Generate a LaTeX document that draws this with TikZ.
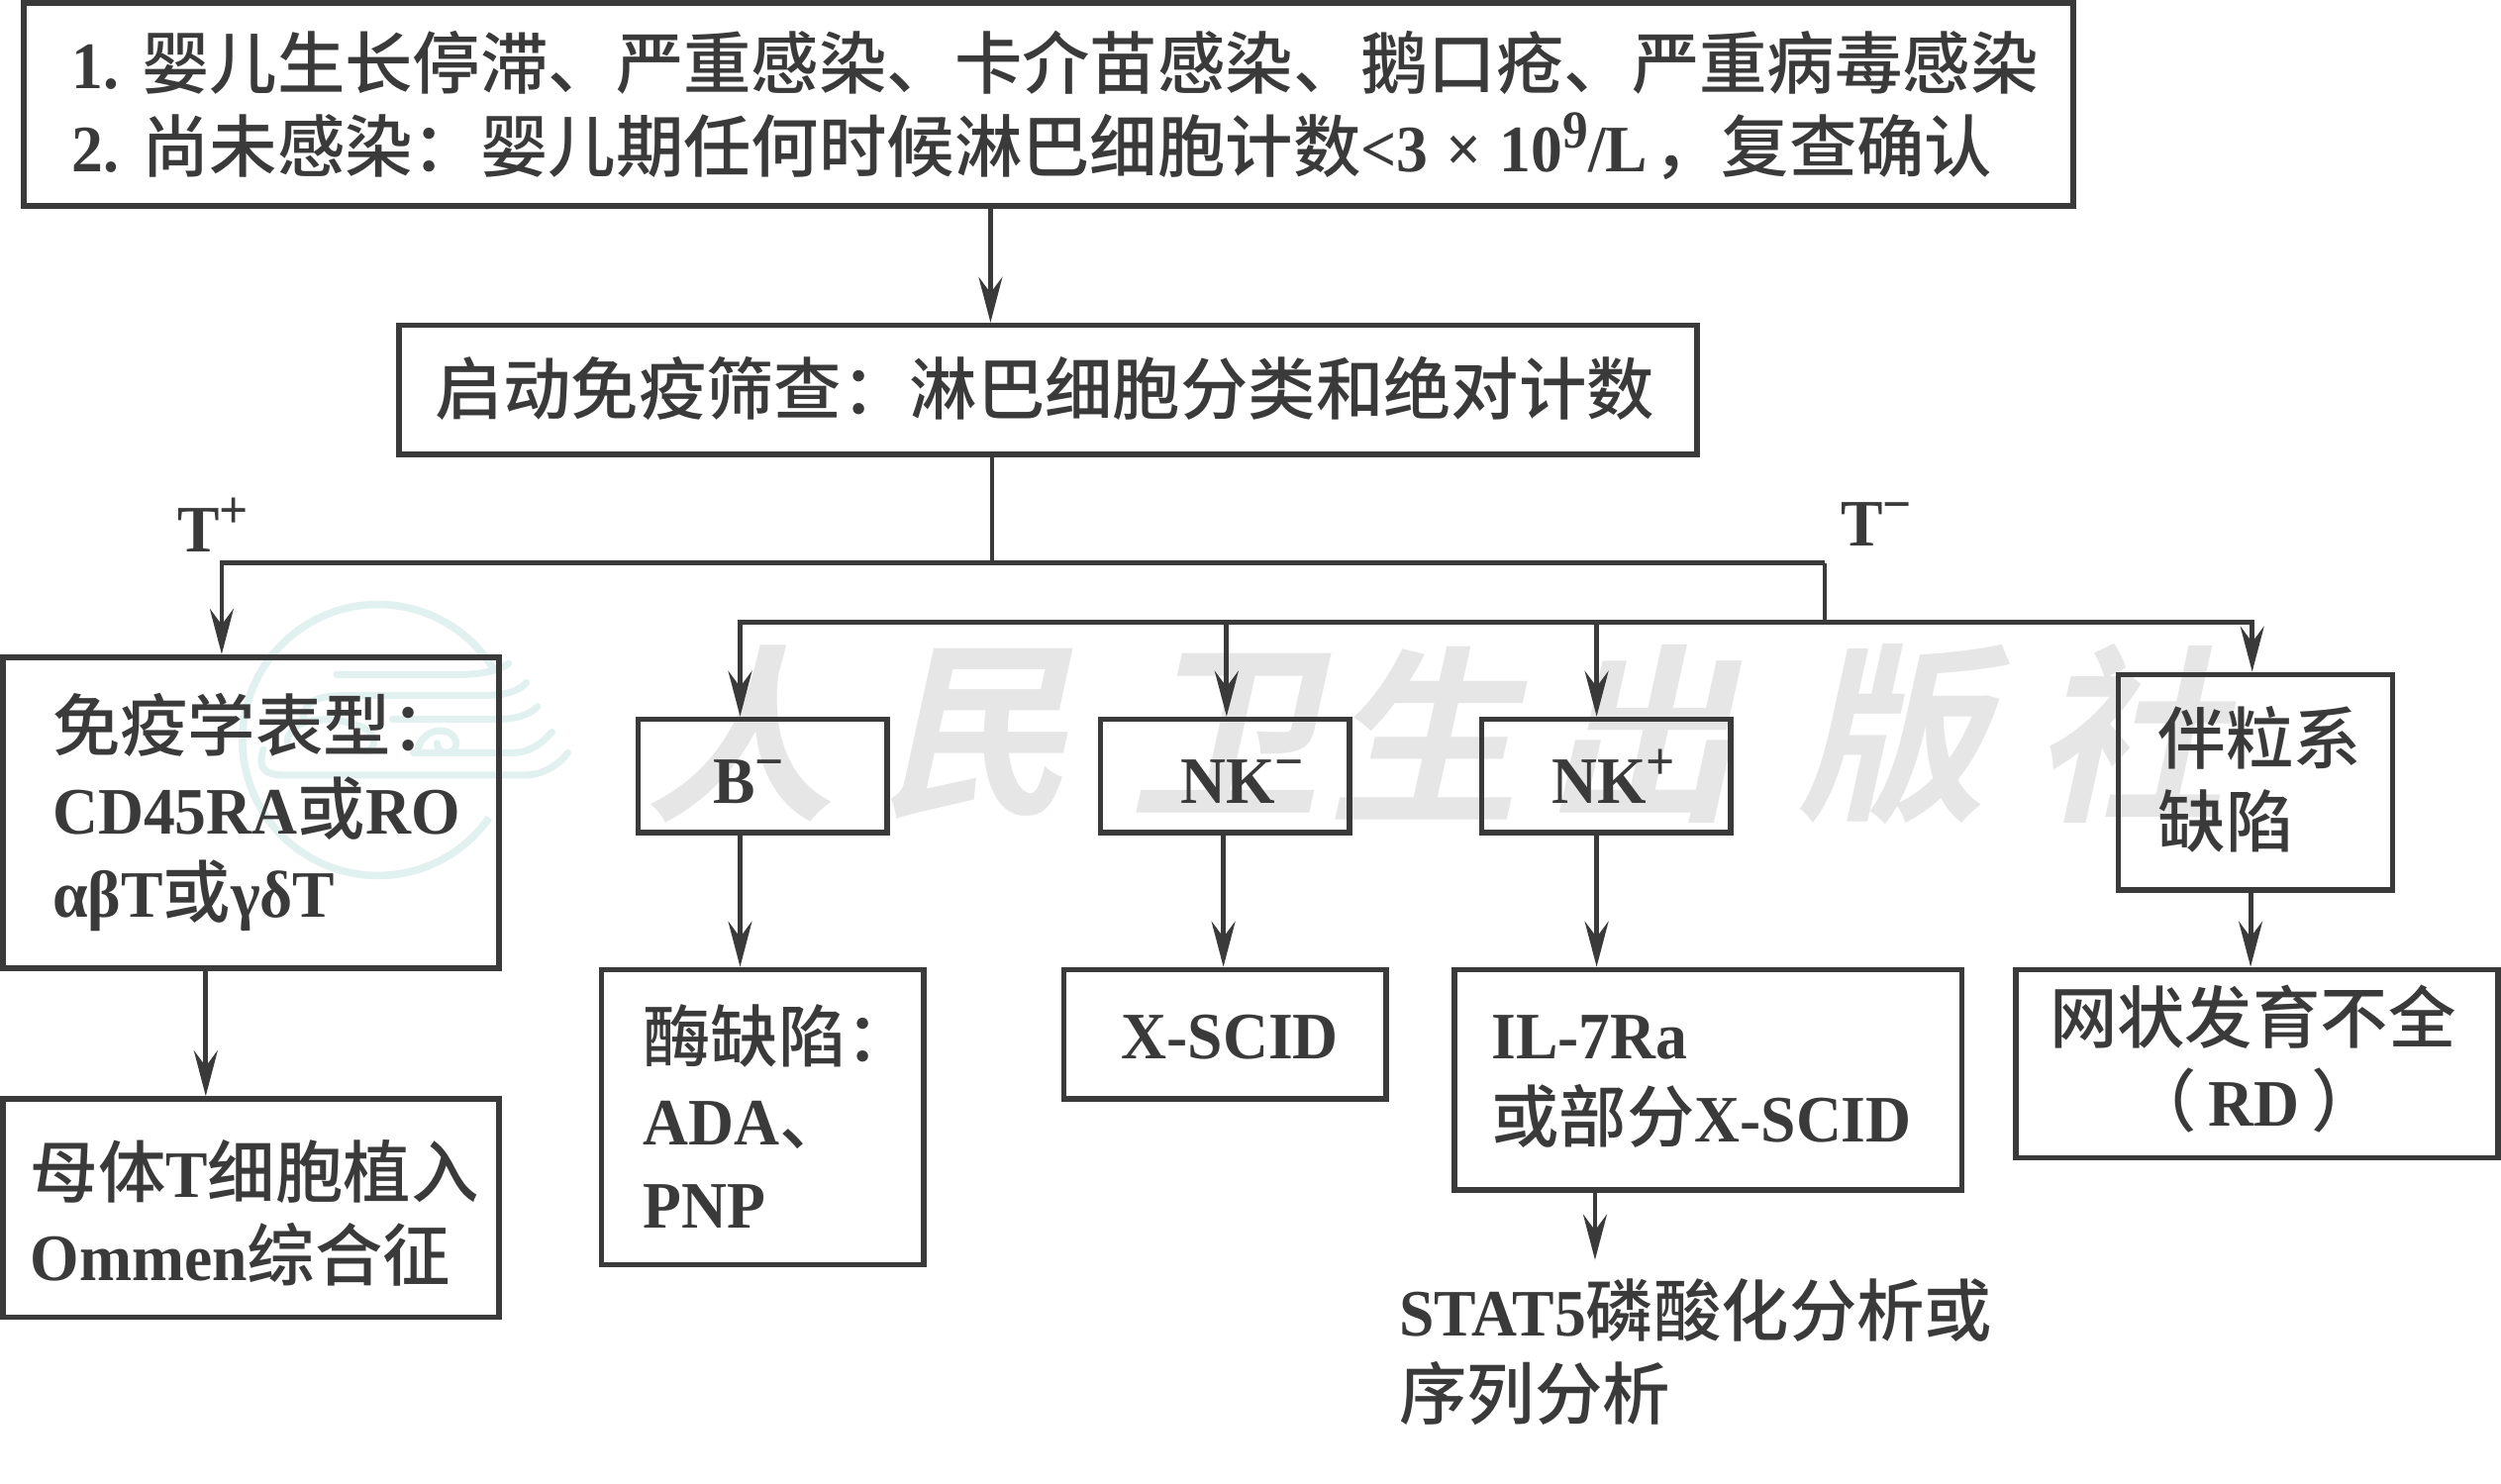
\documentclass[tikz,border=0pt]{standalone}
\usepackage{fontspec}
\setmainfont[FakeStretch=0.95]{Liberation Serif Bold}
\newfontfamily\cjk[Scale=1.021]{Noto Sans CJK SC Medium}
\newfontfamily\wmf[FakeSlant=0.22]{Noto Sans CJK SC Bold}
\usetikzlibrary{arrows.meta}
\definecolor{ink}{HTML}{3A3A3A}
\definecolor{wmark}{HTML}{E6E6E6}
\definecolor{logoc}{HTML}{E0F1EF}
\newcommand\C[1]{{\cjk #1}}
\newcommand\up[1]{\raisebox{0.36em}{\fontsize{27}{27}\selectfont #1}}
% struts that fix where the first baseline sits in a box
\newcommand\bt[1]{\rule{0pt}{\dimexpr #1pt+10pt\relax}}
\newcommand\be{\rule[-10pt]{0pt}{10pt}}
\tikzset{
  boxs/.style={draw=ink,line width=2.8pt,rectangle,inner ysep=0pt,text=ink,font=\fontsize{33.5}{41.9}\selectfont},
  conn/.style={draw=ink,line width=2.4pt},
  arr/.style={conn,-{Stealth[length=23pt,width=12pt,inset=8pt]}},
  lab/.style={text=ink,inner sep=0pt,font=\fontsize{33.5}{41.9}\selectfont},
  wm/.style={text=wmark,inner sep=0pt,font=\fontsize{96}{96}\selectfont\wmf},
  wave/.style={draw=logoc,line width=3.5pt,line cap=round}
}
% name, x1, y1, x2, y2, left inset, alignment, text
\newcommand\bx[8]{%
  \node[boxs,align=#7,inner xsep=#6*0.8055pt,
        text width={(#4-#2-2*#6)*0.8055pt},
        minimum width={(#4-#2)*0.8055pt},minimum height={(#5-#3)*0.8055pt}]
       (#1) at ({(#2+#4)/2},{(#3+#5)/2}) {#8};}
\begin{document}
\begin{tikzpicture}[x=0.8055pt,y=-0.8055pt]
\useasboundingbox (0,0) rectangle (1568,930.5);
% logo
\draw[draw=logoc,line width=3.8pt] (310.6,421.5) arc[start angle=-30,end angle=-325,radius=85];
\draw[wave] (165,470) .. controls (160,486) and (172,486) .. (180,486) -- (329,486) .. controls (340,486) and (350,480) .. (356,472);
\draw[wave] (259,472) -- (321,472) .. controls (332,472) and (340,466) .. (346,459);
\draw[wave] (246,451) -- (309,451) .. controls (320,451) and (330,450) .. (337,443);
\draw[wave] (190,452) .. controls (190,436) and (205,436) .. (225,436) -- (304,436) .. controls (315,436) and (325,434) .. (330,428);
\draw[wave] (211,423) -- (288,423) .. controls (300,423) and (312,421) .. (319,416);
\draw[wave] (262,470) .. controls (265,455) and (285,455) .. (286,466) .. controls (286,474) and (274,474) .. (274,466);
\draw[wave] (180,465) .. controls (182,450) and (205,448) .. (225,455) .. controls (240,460) and (235,475) .. (225,470);
% watermark
\node[wm] (w1) at (464,460) {人};
\node[wm] (w2) at (611,460) {民};
\node[wm] (w3) at (768,460) {卫};
\node[wm] (w4) at (892,460) {生};
\node[wm] (w5) at (1028,460) {出};
\node[wm] (w6) at (1186,460) {版};
\node[wm] (w7) at (1335,460) {社};
% boxes
\bx{top}{15}{2}{1300}{129}{30}{left}{\bt{25.8}1.\hspace{11.5pt}\C{婴儿生长停滞、严重感染、卡介苗感染、鹅口疮、严重病毒感染}\\2.\hspace{11.5pt}\C{尚未感染：婴儿期任何时候淋巴细胞计数}<3\hspace{9pt}×\hspace{9pt}10\up{9}/L\hspace{3pt}\C{，复查确认}\be}
\bx{screen}{250}{204}{1064}{285}{23}{left}{\bt{25}\C{启动免疫筛查：淋巴细胞分类和绝对计数}\be}
\bx{pheno}{2}{412}{313}{607}{31}{left}{\bt{21.8}\C{免疫学表型：}\\CD45RA\C{或}RO\\αβT\C{或}γδT\be}
\bx{mat}{2}{689}{313}{826}{17}{left}{\bt{31.4}\C{母体}T\C{细胞植入}\\Ommen\C{综合征}\be}
\bx{bneg}{400}{451}{556}{522}{47}{left}{\bt{28.2}\mbox{B\up{−}}\be}
\bx{nkneg}{690}{451}{846}{522}{50}{left}{\bt{28.2}\mbox{NK\up{−}}\be}
\bx{nkpos}{929}{451}{1085}{522}{44}{left}{\bt{28.2}\mbox{NK\up{+}}\be}
\bx{gran}{1328}{423}{1500}{558}{25}{left}{\bt{23.4}\C{伴粒系}\\\C{缺陷}\be}
\bx{enz}{377}{608}{579}{793}{26}{left}{\bt{28.2}\C{酶缺陷：}\\ADA\C{、}\\PNP\be}
\bx{xscid}{667}{608}{869}{689}{36}{left}{\bt{25}\mbox{X-SCID}\be}
\bx{il}{912}{608}{1230}{746}{23}{left}{\bt{21}IL-7Ra\\\C{或部分}X-SCID\be}
\bx{rd}{1264}{608}{1566}{726}{21}{left}{\bt{21}\C{网状发育不全}\\\hspace*{40pt}\C{（}\hspace{6pt}RD\hspace{6pt}\C{）}\be}
% free labels
\node[lab,anchor=west] (tp) at (111,329) {T\up{+}};
\node[lab,anchor=west] (tm) at (1154,329) {T\up{−}};
\node[lab,anchor=north west,align=left] (stat) at (877,801.5) {STAT5\C{磷酸化分析或}\\\C{序列分析}};
% junctions
\coordinate (j1) at (622,353);
\coordinate (jl) at (139,353);
\coordinate (jr) at (1144,353);
\coordinate (j2) at (1144,390);
\coordinate (free) at (1000,790);
% connectors
\draw[arr] (top.south -| 621,0) -- (screen.north -| 621,0);
\draw[conn] (screen.south -| j1) -- (j1);
\draw[arr] (jr) -- (jl) -- (pheno.north -| jl);
\draw[conn] (jr) -- (j2);
\draw[arr] (j2) -- (j2 -| 464,0) -- (bneg.north -| 464,0);
\draw[arr] (j2 -| 769,0) -- (nkneg.north -| 769,0);
\draw[arr] (j2 -| 1001,0) -- (nkpos.north -| 1001,0);
\draw[arr] (j2) -- (j2 -| 1412,0) -- (gran.north -| 1412,0);
\draw[arr] (pheno.south -| 129,0) -- (mat.north -| 129,0);
\draw[arr] (bneg.south -| 464,0) -- (enz.north -| 464,0);
\draw[arr] (nkneg.south -| 767,0) -- (xscid.north -| 767,0);
\draw[arr] (nkpos.south -| 1001,0) -- (il.north -| 1001,0);
\draw[arr] (gran.south -| 1411,0) -- (rd.north -| 1411,0);
\draw[arr] (il.south -| free) -- (free);
\end{tikzpicture}
\end{document}
